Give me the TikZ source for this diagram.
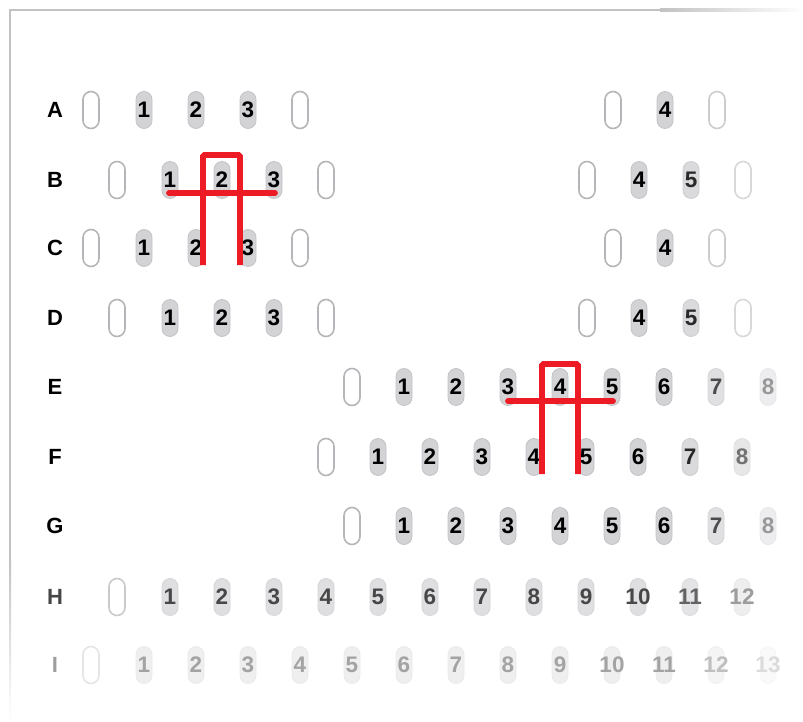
\documentclass[tikz,border=0pt]{standalone}
\usepackage{fontspec}
\setmainfont{Liberation Sans}
\definecolor{pillfill}{HTML}{D3D3D6}
\definecolor{pilledge}{HTML}{C4C4C8}
\definecolor{emptyedge}{HTML}{B6B6BA}
\definecolor{redbar}{HTML}{ED1C24}
\definecolor{frame}{HTML}{C2C2C4}
\tikzset{
  pill/.style={rectangle, rounded corners=8pt, minimum width=16pt, minimum height=37pt, inner sep=0pt, line width=0.8pt},
  emptypill/.style={rectangle, rounded corners=8pt, minimum width=16pt, minimum height=37pt, inner sep=0pt, line width=1.6pt, fill=white},
  pilltext/.style={inner sep=0pt, font=\fontsize{22.5}{22.5}\selectfont\bfseries},
  rowlabel/.style={inner sep=0pt, font=\fontsize{22}{22}\selectfont\bfseries},
  redline/.style={draw=redbar, line width=5.8pt}
}
\newcommand\mkpill[5]{%
  \pgfmathsetmacro\px{#2}%
  \pgfmathtruncatemacro\fc{min(100,100-(\px-665)*0.58)}%
  \pgfmathtruncatemacro\ff{\fc*#5/100}%
  \node[pill, fill=pillfill!\ff!white, draw=pilledge!\ff!white] (#1) at (\px,#3) {};
  \node[pilltext, text=black!\ff!white] (#1-t) at (#1.center) {#4};
}
\newcommand\mkempty[4]{%
  \pgfmathsetmacro\px{#2}%
  \pgfmathtruncatemacro\fc{min(100,100-(\px-665)*0.58)}%
  \pgfmathtruncatemacro\ff{\fc*#4/100}%
  \node[emptypill, draw=emptyedge!\ff!white] (#1) at (\px,#3) {};
}
\begin{document}
\begin{tikzpicture}[x=1pt,y=-1pt]
\useasboundingbox (0,0) rectangle (803,722);
% frame
\draw[frame, line width=2pt] (10,560) -- (10,10) -- (660,10);
\shade[left color=frame, right color=white] (660,8.5) rectangle (803,12);
\shade[top color=frame, bottom color=white] (9,560) rectangle (11,722);
% row labels
\node[rowlabel] (lA) at (55,110) {A};
\node[rowlabel] (lB) at (55,180) {B};
\node[rowlabel] (lC) at (55,248) {C};
\node[rowlabel] (lD) at (55,318) {D};
\node[rowlabel] (lE) at (55,387) {E};
\node[rowlabel] (lF) at (55,457) {F};
\node[rowlabel] (lG) at (55,526) {G};
\node[rowlabel, text=black!72] (lH) at (55,597) {H};
\node[rowlabel, text=black!38] (lI) at (55,665) {I};
% rows A and C
\foreach \r/\y in {A/110,C/248}{
  \mkempty{\r e1}{91}{\y}{100}
  \foreach \i in {1,2,3}{\mkpill{\r\i}{144+52*(\i-1)}{\y}{\i}{100}}
  \mkempty{\r e2}{300}{\y}{100}
  \mkempty{\r e3}{613}{\y}{100}
  \mkpill{\r4}{665}{\y}{4}{100}
  \mkempty{\r e4}{717}{\y}{100}
}
% rows B and D
\foreach \r/\y in {B/180,D/318}{
  \mkempty{\r e1}{117}{\y}{100}
  \foreach \i in {1,2,3}{\mkpill{\r\i}{170+52*(\i-1)}{\y}{\i}{100}}
  \mkempty{\r e2}{326}{\y}{100}
  \mkempty{\r e3}{587}{\y}{100}
  \mkpill{\r4}{639}{\y}{4}{100}
  \mkpill{\r5}{691}{\y}{5}{100}
  \mkempty{\r e4}{743}{\y}{100}
}
% rows E and G
\foreach \r/\y in {E/387,G/526}{
  \mkempty{\r e1}{352}{\y}{100}
  \foreach \i in {1,...,8}{\mkpill{\r\i}{404+52*(\i-1)}{\y}{\i}{100}}
}
% row F
\mkempty{Fe1}{326}{457}{100}
\foreach \i in {1,...,8}{\mkpill{F\i}{378+52*(\i-1)}{457}{\i}{100}}
% row H
\mkempty{He1}{117}{597}{72}
\foreach \i in {1,...,12}{\mkpill{H\i}{170+52*(\i-1)}{597}{\i}{72}}
% row I
\mkempty{Ie1}{91}{665}{36}
\foreach \i in {1,...,13}{\mkpill{I\i}{144+52*(\i-1)}{665}{\i}{36}}
% red markers
\draw[redline, rounded corners=1.5pt] (203,265) -- (203,155) -- (240,155) -- (240,265);
\draw[redline, line cap=round] (169,193) -- (275,193);
\draw[redline, rounded corners=1.5pt] (542,474) -- (542,364) -- (578,364) -- (578,474);
\draw[redline, line cap=round] (508,401) -- (613,401);
\end{tikzpicture}
\end{document}
